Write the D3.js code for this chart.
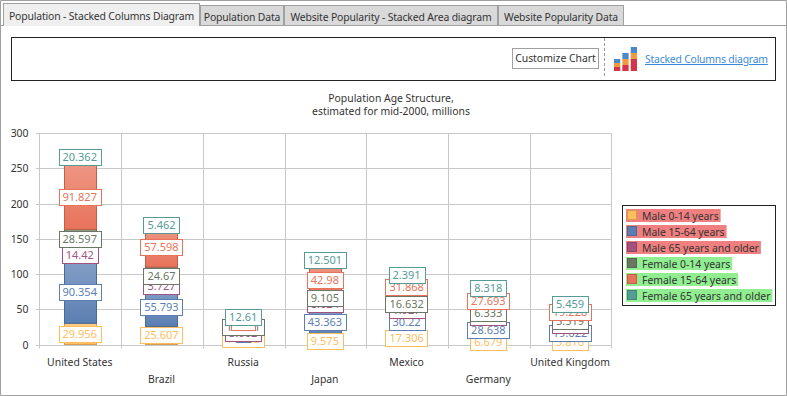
<!DOCTYPE html>
<html>
<head>
<meta charset="utf-8">
<script src="https://cdn.jsdelivr.net/npm/d3@7"></script>
<style>
  html, body { margin: 0; padding: 0; background: #fff; overflow: hidden; }
  text { font-family: "Noto Sans", sans-serif; font-size: 10.4px; fill: #333; }
  .tab { letter-spacing: -0.15px; }
  .link { letter-spacing: -0.2px; }
</style>
</head>
<body>
<div id="chart"></div>
<script>
// chart data
const countries = ["United States", "Brazil", "Russia", "Japan", "Mexico", "Germany", "United Kingdom"];
const seriesNames = ["Male 0-14 years", "Male 15-64 years", "Male 65 years and older",
                     "Female 0-14 years", "Female 15-64 years", "Female 65 years and older"];
const male014 = [29.956, 25.607, 14.403, 9.575, 17.306, 6.679, 5.816];
const male1564 = [90.354, 55.793, 1, 43.363, 30.22, 28.638, 19.622];
const male65 = [14.42, 3.727, 3.002, 8.024, 1.927, 6.204, 5.102];
const female014 = [28.597, 24.67, 12.971, 9.105, 16.632, 6.333, 5.519];
const female1564 = [91.827, 57.598, 1.4, 42.98, 31.868, 27.693, 19.228];
const female65 = [20.362, 5.462, 12.61, 12.501, 2.391, 8.318, 5.459];
const seriesValues = [male014, male1564, male65, female014, female1564, female65];
const seriesColors = ["#ffbd5c", "#5b7fb3", "#a3527f", "#6a7763", "#e8735a", "#559b96"];
const yTicks = [0, 50, 100, 150, 200, 250, 300];
const tabNames = ["Population - Stacked Columns Diagram", "Population Data",
                  "Website Popularity - Stacked Area diagram", "Website Popularity Data"];
const titleLines = ["Population Age Structure,", "estimated for mid-2000, millions"];

const W = 787, H = 396;
const plot = {left: 39.9, right: 611.9, top: 133, bottom: 344.5};
const tabEdges = [3, 200, 284, 498, 624];

const svg = d3.select("#chart").append("svg")
    .attr("width", W)
    .attr("height", H)
    .style("display", "block");

// gradients for the columns
const defs = svg.append("defs");
seriesColors.forEach(function(c, i) {
    const g = defs.append("linearGradient")
        .attr("id", "grad" + i)
        .attr("x1", 0).attr("y1", 0).attr("x2", 0).attr("y2", 1);
    g.append("stop").attr("offset", "0%").attr("stop-color", d3.interpolateRgb(c, "#fff")(0.25));
    g.append("stop").attr("offset", "100%").attr("stop-color", c);
});

// window frame
svg.append("path")
    .attr("d", `M0.5,0.5 H${W - 0.5} V${H - 0.5} H0.5 Z M0.5,25.5 H${W - 0.5}`)
    .attr("fill", "none")
    .attr("stroke", "#a0a0a0");

// tabs
tabNames.forEach(function(name, i) {
    const active = i === 0;
    const top = active ? 3.5 : 5.5;
    const tab = svg.append("g");
    tab.append("rect")
        .attr("x", tabEdges[i] + 0.5)
        .attr("y", top)
        .attr("width", tabEdges[i + 1] - tabEdges[i] - 1)
        .attr("height", 25.5 - top)
        .attr("fill", active ? "#efefef" : "#d9d9d9")
        .attr("stroke", "#a0a0a0");
    tab.append("text")
        .attr("class", "tab")
        .attr("x", (tabEdges[i] + tabEdges[i + 1]) / 2)
        .attr("y", active ? 20 : 21)
        .attr("text-anchor", "middle")
        .text(name);
});
// active tab opens into the page below
svg.append("line")
    .attr("x1", tabEdges[0] + 1).attr("x2", tabEdges[1] - 1)
    .attr("y1", 25.5).attr("y2", 25.5)
    .attr("stroke", "#efefef");

// toolbar box
svg.append("rect")
    .attr("x", 11.5).attr("y", 37.5)
    .attr("width", 764).attr("height", 43)
    .attr("fill", "#fff")
    .attr("stroke", "#222");
svg.append("rect")
    .attr("x", 512.5).attr("y", 48.5)
    .attr("width", 86).attr("height", 20)
    .attr("fill", "#fff")
    .attr("stroke", "#a0a0a0");
svg.append("text")
    .attr("x", 555.5).attr("y", 62)
    .attr("text-anchor", "middle")
    .text("Customize Chart");
svg.append("line")
    .attr("x1", 604.5).attr("x2", 604.5).attr("y1", 38).attr("y2", 78)
    .attr("stroke", "#999")
    .attr("stroke-dasharray", "3,2");

// little stacked columns icon
const iconColors = ["#d4344a", "#f09a3c", "#4a8ac8"];
const iconStacks = [[4, 4, 4], [6, 6, 6], [12, 6, 6]];
const iconX = d3.scaleBand().domain([0, 1, 2]).range([614, 637]).paddingInner(0.25);
const iconY = d3.scaleLinear().domain([0, 24]).range([71, 47]);
iconStacks.forEach(function(stack, i) {
    let base = 0;
    stack.forEach(function(v, j) {
        svg.append("rect")
            .attr("x", iconX(i))
            .attr("y", iconY(base + v))
            .attr("width", iconX.bandwidth())
            .attr("height", iconY(base) - iconY(base + v))
            .attr("fill", iconColors[j]);
        base += v;
    });
});
svg.append("text")
    .attr("class", "link")
    .attr("x", 645).attr("y", 63)
    .style("fill", "#3a8ad8")
    .style("text-decoration", "underline")
    .text("Stacked Columns diagram");

// chart title
svg.selectAll(".title")
    .data(titleLines)
    .enter()
    .append("text")
        .attr("class", "title")
        .attr("x", 391)
        .attr("y", function(d, i) { return 102 + i * 13; })
        .attr("text-anchor", "middle")
    .text(function(d) { return d; });

// scales
const xScale = d3.scaleBand()
    .domain(countries)
    .range([plot.left, plot.right]);
const yScale = d3.scaleLinear()
    .domain([0, 300])
    .range([plot.bottom, plot.top]);
// marks sit a pixel left of the band centre
const xCenter = function(c) { return xScale(c) + xScale.bandwidth() / 2 - 1; };

// grid
const gridColor = "#c8c8c8";
svg.append("g")
    .selectAll("line")
    .data(yTicks)
    .enter()
    .append("line")
        .attr("x1", plot.left - 4)
        .attr("x2", plot.right)
        .attr("y1", function(d) { return Math.round(yScale(d)) + 0.5; })
        .attr("y2", function(d) { return Math.round(yScale(d)) + 0.5; })
        .attr("stroke", gridColor);
const xEdges = countries.map(function(d) { return xScale(d); }).concat([plot.right]);
svg.append("g")
    .selectAll("line")
    .data(xEdges)
    .enter()
    .append("line")
        .attr("x1", function(d) { return Math.floor(d) + 0.5; })
        .attr("x2", function(d) { return Math.floor(d) + 0.5; })
        .attr("y1", plot.top)
        .attr("y2", plot.bottom + 4)
        .attr("stroke", gridColor);

// Y axis labels
svg.append("g")
    .selectAll("text")
    .data(yTicks)
    .enter()
    .append("text")
        .attr("x", 28.5)
        .attr("y", function(d) { return yScale(d) + 4; })
        .attr("text-anchor", "end")
    .text(function(d) { return d; });

// X axis labels, every second one staggered down
svg.append("g")
    .selectAll("text")
    .data(countries)
    .enter()
    .append("text")
        .attr("x", function(d) { return xCenter(d); })
        .attr("y", function(d, i) { return i % 2 ? 383 : 366; })
        .attr("text-anchor", "middle")
    .text(function(d) { return d; });

// stack the values
const rows = countries.map(function(c, i) {
    const row = {country: c};
    seriesNames.forEach(function(s, j) { row[s] = seriesValues[j][i]; });
    return row;
});
const stacked = d3.stack().keys(seriesNames)(rows);
const barWidth = 32;

// columns
const barGroups = svg.append("g")
    .selectAll("g")
    .data(stacked)
    .enter()
    .append("g");
barGroups.selectAll("rect")
    .data(function(d, i) { return d.map(function(p) { return {p: p, i: i}; }); })
    .enter()
    .append("rect")
        .attr("x", function(d) { return Math.round(xCenter(d.p.data.country) - barWidth / 2) + 0.5; })
        .attr("y", function(d) { return yScale(d.p[1]); })
        .attr("width", barWidth)
        .attr("height", function(d) { return yScale(d.p[0]) - yScale(d.p[1]); })
        .attr("fill", function(d) { return "url(#grad" + d.i + ")"; })
        .attr("stroke", function(d) { return d3.color(seriesColors[d.i]).darker(0.5); });

// value labels, later series sit on top
stacked.forEach(function(series, i) {
    series.forEach(function(p) {
        const cx = xCenter(p.data.country);
        const cy = yScale((p[0] + p[1]) / 2);
        const g = svg.append("g");
        const t = g.append("text")
            .attr("x", cx)
            .attr("y", cy + 4)
            .attr("text-anchor", "middle")
            .style("fill", seriesColors[i])
            .style("font-size", "11px")
            .text(p.data[series.key]);
        const w = t.node().getComputedTextLength();
        g.insert("rect", "text")
            .attr("x", Math.round(cx - w / 2 - 4) + 0.5)
            .attr("y", Math.round(cy - 8) + 0.5)
            .attr("width", Math.round(w + 8))
            .attr("height", 16)
            .attr("fill", "#fff")
            .attr("stroke", seriesColors[i]);
    });
});

// legend
svg.append("rect")
    .attr("x", 622.5).attr("y", 205.5)
    .attr("width", 153).attr("height", 100)
    .attr("fill", "#fff")
    .attr("stroke", "#222");
const legendY = d3.scaleBand()
    .domain(seriesNames)
    .range([209, 305]);
const legend = svg.append("g")
    .selectAll("g")
    .data(seriesNames)
    .enter()
    .append("g")
        .attr("transform", function(d) { return `translate(626, ${legendY(d)})`; });
const legendText = legend.append("text")
    .attr("x", 16)
    .attr("y", 11)
    .text(function(d) { return d; });
legend.insert("rect", "text")
    .attr("x", 0)
    .attr("y", 0)
    .attr("width", function(d, i) { return legendText.nodes()[i].getComputedTextLength() + 18; })
    .attr("height", 13)
    .attr("fill", function(d, i) { return i < 3 ? "#f08080" : "#90ee90"; });
legend.append("rect")
    .attr("x", 1.5)
    .attr("y", 1.5)
    .attr("width", 9)
    .attr("height", 9)
    .attr("fill", function(d, i) { return seriesColors[i]; })
    .attr("stroke", function(d, i) { return d3.color(seriesColors[i]).darker(0.5); });
</script>
</body>
</html>
